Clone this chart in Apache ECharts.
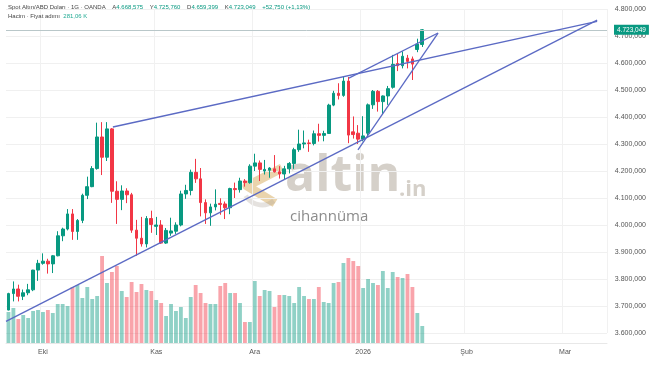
<!DOCTYPE html>
<html><head><meta charset="utf-8">
<script src="https://cdn.jsdelivr.net/npm/echarts@6/dist/echarts.min.js"></script>
<style>html,body{margin:0;padding:0;background:#fff}#c{width:654px;height:366px}</style>
</head><body><div id="c"></div>
<script>
// ---- data ----
const holidays = ['2025-12-25', '2026-01-01'];
const monthTickDates = ['2025-10-01', '2025-11-03', '2025-12-01', '2026-01-02', '2026-02-02', '2026-03-02'];
const monthTickLabels = ['Eki', 'Kas', 'Ara', '2026', 'Şub', 'Mar'];
const opens  = [3685,3746,3763,3736,3749,3760,3833,3858,3866,3856,3886,3960,3985,4041,3976,4017,4110,4142,4209,4326,4251,4356,4125,4095,4126,4112,3981,3951,3930,4024,3995,4000,3933,3970,3977,4000,4115,4128,4195,4171,4083,4045,4067,4080,4078,4064,4135,4131,4163,4157,4218,4230,4200,4203,4208,4197,4189,4208,4228,4279,4300,4304,4302,4338,4332,4339,4444,4488,4480,4533,4345,4340,4318,4340,4445,4495,4457,4478,4510,4598,4590,4618,4615,4650,4668.575];
const highs  = [3749,3791,3779,3761,3782,3834,3871,3895,3875,3889,3977,3990,4059,4059,4022,4116,4179,4218,4379,4381,4381,4359,4162,4147,4136,4119,4019,4030,4033,4053,4030,4018,3989,4027,4010,4127,4149,4205,4245,4211,4095,4079,4132,4099,4087,4138,4157,4175,4170,4225,4264,4239,4241,4214,4259,4218,4219,4233,4286,4353,4350,4316,4350,4375,4349,4449,4497,4525,4550,4548,4402,4370,4403,4450,4500,4500,4480,4515,4630,4635,4643,4630,4624,4690,4725.760];
const lows   = [3684,3717,3717,3722,3740,3755,3793,3853,3820,3822,3884,3940,3980,3945,3945,4007,4096,4140,4205,4185,4237,4082,4004,4055,4081,3971,3886,3920,3917,3971,3963,3930,3930,3960,3967,3995,4097,4110,4156,4032,4004,3997,4054,4038,4022,4040,4100,4120,4142,4153,4200,4163,4187,4175,4194,4172,4170,4191,4208,4271,4284,4271,4295,4309,4310,4338,4440,4465,4475,4303,4320,4300,4310,4325,4430,4420,4410,4445,4505,4570,4580,4580,4537,4640,4659.399];
const closes = [3746,3763,3736,3749,3760,3833,3858,3866,3856,3886,3960,3985,4041,3976,4017,4110,4142,4209,4326,4251,4356,4125,4095,4126,4112,3981,3951,3930,4024,4002,4000,3933,3980,3978,4000,4115,4128,4195,4171,4083,4045,4067,4077,4076,4064,4135,4131,4163,4157,4218,4230,4206,4206,4211,4197,4189,4208,4228,4279,4300,4304,4302,4338,4332,4339,4444,4488,4480,4533,4333,4335,4318,4330,4445,4495,4457,4478,4505,4595,4590,4625,4606,4596,4670,4723.049];
const volumesK = [512,579,397,463,413,529,546,512,546,496,645,645,612,926,959,744,926,727,777,1438,992,1174,1273,860,760,1008,843,975,876,860,711,661,446,645,529,595,413,760,959,827,661,645,645,942,992,827,827,661,347,347,1025,777,876,860,595,793,793,777,661,926,777,727,727,926,678,661,992,1008,1322,1405,1355,1273,909,1058,992,959,1190,909,1174,1091,1074,1141,926,496,281.06];
// trend lines: [barIndex, price] endpoints
const trendSupport = [[-0.5, 3643], [119.5, 4759]];
const trendResistance = [[21.2, 4363], [119.5, 4754]];
const trendSteep = [[70.95, 4278], [87.2, 4711]];
const trendChannel = [[69.1, 4544], [87.2, 4711]];
const lastPrice = 4723.049;
const lastVolumeK = 281.06;

// ---- categories (trading days) ----
const dates = [];
{
  const d = new Date(Date.UTC(2025, 8, 22));
  const end = new Date(Date.UTC(2026, 2, 12));
  while (d <= end) {
    const wd = d.getUTCDay();
    const s = d.toISOString().slice(0, 10);
    if (wd !== 0 && wd !== 6 && holidays.indexOf(s) < 0) dates.push(s);
    d.setUTCDate(d.getUTCDate() + 1);
  }
}
const N = dates.length;
const labelMap = {};
monthTickDates.forEach((d, i) => labelMap[d] = monthTickLabels[i]);

function trFmt(v, dec) {
  const s = Number(v).toFixed(dec);
  const [ip, fp] = s.split('.');
  const ipf = ip.replace(/\B(?=(\d{3})+(?!\d))/g, '.');
  return fp ? ipf + ',' + fp : ipf;
}

const UP = '#089981', DOWN = '#f23645';
const candleData = opens.map((o, i) => [o, closes[i], lows[i], highs[i]]);
const volData = volumesK.map((v, i) => ({
  value: v,
  itemStyle: { color: closes[i] >= opens[i] ? 'rgba(8,153,129,0.45)' : 'rgba(242,54,69,0.45)' }
}));

const LINE = '#5b6ac4';
function trend(data) {
  return {
    type: 'line', xAxisIndex: 1, yAxisIndex: 0, data: data, symbol: 'none',
    lineStyle: { color: LINE, width: 1.3 }, silent: true, z: 5, animation: false
  };
}

const FONT = '"Liberation Sans", Arial, sans-serif';
const chart = echarts.init(document.getElementById('c'), null, { renderer: 'canvas' });
chart.setOption({
  animation: false,
  backgroundColor: '#ffffff',
  textStyle: { fontFamily: FONT },
  grid: [
    { left: 6, right: 47, top: 9, height: 324 },
    { left: 6, right: 47, top: 243, height: 100 }
  ],
  xAxis: [
    { type: 'category', gridIndex: 0, data: dates, boundaryGap: true,
      axisLabel: { show: false }, axisTick: { show: false }, axisLine: { show: false },
      splitLine: { show: true, interval: (i, v) => labelMap[v] !== undefined, lineStyle: { color: '#f1f1f1', width: 1 } } },
    { type: 'value', gridIndex: 0, min: -0.5, max: N - 0.5, show: false },
    { type: 'category', gridIndex: 1, data: dates, boundaryGap: true,
      axisLabel: { show: true, interval: (i, v) => labelMap[v] !== undefined, formatter: v => labelMap[v] || '',
        fontSize: 7, color: '#555', margin: 6, fontFamily: FONT },
      axisTick: { show: false },
      axisLine: { show: true, lineStyle: { color: '#e8e8e8' } },
      splitLine: { show: false } }
  ],
  yAxis: [
    { type: 'value', gridIndex: 0, position: 'right', min: 3600, max: 4800, interval: 100,
      axisLine: { show: false }, axisTick: { show: false },
      axisLabel: { formatter: v => trFmt(v, 3), fontSize: 7, color: '#555', align: 'right', margin: 39, fontFamily: FONT },
      splitLine: { lineStyle: { color: '#f0f0f0', width: 1 } } },
    { type: 'value', gridIndex: 1, min: 0, max: 1653, show: false }
  ],
  graphic: [
    { type: 'text', left: 8, top: 1, z: 20, style: {
        text: '{t|Spot Altın/ABD Doları · 1G · OANDA}  {l|A}{v|4.668,575}  {l|Y}{v|4.725,760}  {l|D}{v|4.659,399}  {l|K}{v|4.723,049}  {v|+52,750 (+1,13%)}',
        rich: { t: { fontSize: 6, fill: '#444', fontFamily: FONT }, l: { fontSize: 6, fill: '#444', fontFamily: FONT }, v: { fontSize: 6, fill: '#089981', fontFamily: FONT } } } },
    { type: 'text', left: 8, top: 10, z: 20, style: {
        text: '{t|Hacim · Fiyat adımı} {v|281,06 K}',
        rich: { t: { fontSize: 6, fill: '#444', fontFamily: FONT }, v: { fontSize: 6, fill: '#22ab94', fontFamily: FONT } } } },
    // watermark
    { type: 'polyline', z: -1, shape: { points: [[282, 168], [247, 186], [275, 203]] },
      style: { stroke: 'rgba(214,170,90,0.5)', lineWidth: 9, fill: null, lineJoin: 'round' } },
    { type: 'arc', z: -1, shape: { cx: 262, cy: 186, r: 19, startAngle: 0.9, endAngle: 2.6 },
      style: { stroke: 'rgba(170,160,150,0.3)', lineWidth: 5, fill: null } },
    { type: 'text', z: -1, x: 285, y: 202, style: { text: 'altin', font: 'bold 50px "Open Sans", "Liberation Sans", sans-serif', fill: 'rgba(185,177,165,0.6)', textVerticalAlign: 'bottom' } },
    { type: 'text', z: -1, x: 399, y: 201, style: { text: '.in', font: 'bold 22px "Open Sans", "Liberation Sans", sans-serif', fill: 'rgba(185,177,165,0.6)', textVerticalAlign: 'bottom' } },
    { type: 'text', z: -1, x: 290, y: 209, style: { text: 'cihannüma', font: '15px "Open Sans", "Liberation Sans", sans-serif', fill: 'rgba(110,110,110,0.8)', textVerticalAlign: 'top' } }
  ],
  series: [
    { type: 'bar', xAxisIndex: 2, yAxisIndex: 1, data: volData, barWidth: '78%', z: 1, silent: true,
      markLine: { silent: true, symbol: 'none', data: [{ yAxis: lastVolumeK }],
        lineStyle: { opacity: 0 },
        label: { position: 'end', formatter: trFmt(lastVolumeK, 2) + ' K', backgroundColor: '#22ab94', color: '#fff',
          fontSize: 6.5, padding: [2, 3, 1, 3], distance: 7, fontFamily: FONT } } },
    { type: 'candlestick', xAxisIndex: 0, yAxisIndex: 0, data: candleData, barWidth: 3.2, z: 3, silent: true,
      itemStyle: { color: UP, color0: DOWN, borderColor: UP, borderColor0: DOWN, borderWidth: 1 },
      markLine: { silent: true, symbol: 'none', data: [{ yAxis: lastPrice }],
        lineStyle: { color: '#b9c7c9', width: 1, type: 'solid' },
        label: { position: 'end', formatter: trFmt(lastPrice, 3), backgroundColor: '#089981', color: '#fff',
          fontSize: 6.5, padding: [2, 3, 1, 3], distance: 7, fontFamily: FONT } } },
    trend(trendSupport), trend(trendResistance), trend(trendSteep), trend(trendChannel)
  ]
});
</script></body></html>
